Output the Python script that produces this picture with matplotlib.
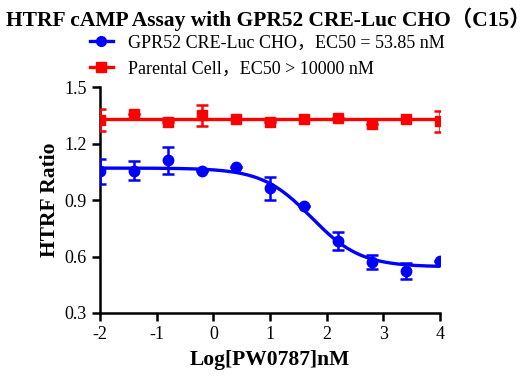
import numpy as np
import matplotlib.pyplot as plt

plt.rcParams['font.family'] = ['Liberation Serif', 'Noto Sans CJK SC']
plt.rcParams['axes.unicode_minus'] = False

# concentrations, log10 nM
log_conc = [-2.0, -1.4, -0.8, -0.2, 0.4, 1.0, 1.6, 2.2, 2.8, 3.4, 4.0]

gpr52_mean = [1.052, 1.056, 1.112, 1.054, 1.075, 0.962, 0.866, 0.681, 0.573, 0.525, 0.576]
gpr52_err = [0.065, 0.05, 0.072, 0.0, 0.0, 0.061, 0.0, 0.047, 0.037, 0.042, 0.0]

parental_mean = [1.325, 1.36, 1.316, 1.35, 1.33, 1.316, 1.332, 1.337, 1.305, 1.332, 1.318]
parental_err = [0.057, 0.0, 0.0, 0.055, 0.0, 0.0, 0.0, 0.0, 0.0, 0.0, 0.057]

# 4PL fit parameters
gpr52_top = 1.07
gpr52_bottom = 0.545
gpr52_logec50 = np.log10(53.85)
gpr52_hill = 1.0
parental_fit = 1.33

blue = '#0000ff'
red = '#ff0000'

fig = plt.figure(figsize=(5.32, 3.84), dpi=100)
ax = fig.add_axes([0.188, 0.185, 0.639, 0.588])

xs = np.linspace(-2, 4, 300)
fit = gpr52_bottom + (gpr52_top - gpr52_bottom) / (1 + 10 ** ((xs - gpr52_logec50) * gpr52_hill))

ax.plot(xs, fit, color=blue, lw=2.4, zorder=3)
ax.errorbar(log_conc, gpr52_mean, yerr=gpr52_err, fmt='o', color=blue, ms=7.5,
            elinewidth=1.8, capsize=4, capthick=1.8, zorder=4)
ax.plot([-2, 4], [parental_fit, parental_fit], color=red, lw=2.4, zorder=3)
ax.errorbar(log_conc, parental_mean, yerr=parental_err, fmt='s', color=red, ms=7.5,
            elinewidth=1.8, capsize=4, capthick=1.8, zorder=4)

# legend handles
h1, = ax.plot([], [], color=blue, lw=2.4, marker='o', ms=7)
h2, = ax.plot([], [], color=red, lw=2.4, marker='s', ms=7)
fig.legend([h1, h2], ['GPR52 CRE-Luc CHO，EC50 = 53.85 nM', 'Parental Cell，EC50 > 10000 nM'],
           loc='upper left', bbox_to_anchor=(0.138, 0.952), frameon=False, fontsize=13,
           handlelength=1.3, handletextpad=0.8, labelspacing=0.5)

ax.set_xlim(-2, 4)
ax.set_ylim(0.3, 1.5)
ax.set_xticks([-2, -1, 0, 1, 2, 3, 4])
ax.set_yticks([0.3, 0.6, 0.9, 1.2, 1.5])
ax.set_yticklabels(['0.3', '0.6', '0.9', '1.2', '1.5'])
ax.spines['top'].set_visible(False)
ax.spines['right'].set_visible(False)
for s in ['left', 'bottom']:
    ax.spines[s].set_linewidth(1.8)
ax.tick_params(width=1.8, length=6, labelsize=13, direction='out')
ax.set_xlabel('Log[PW0787]nM', fontsize=15.5, fontweight='bold', labelpad=5)
ax.set_ylabel('HTRF Ratio', fontsize=15.5, fontweight='bold', labelpad=3)
for sp in ax.spines.values():
    sp.set_clip_on(False)

fig.text(0.505, 0.98, 'HTRF cAMP Assay with GPR52 CRE-Luc CHO（C15）', ha='center', va='top',
         fontsize=15.5, fontweight='bold')

fig.savefig('out.png', dpi=100)
